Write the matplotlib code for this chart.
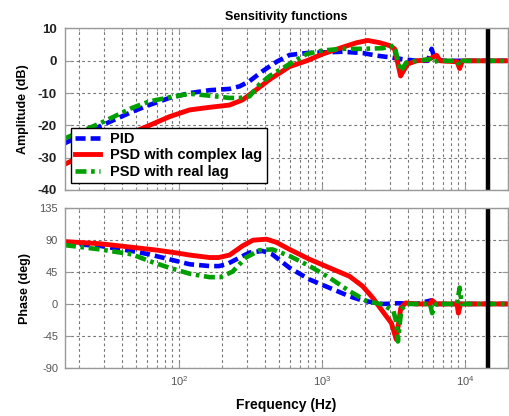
import numpy as np
import matplotlib
matplotlib.use("Agg")
import matplotlib.pyplot as plt
from matplotlib.ticker import LogLocator, NullFormatter, FixedLocator

plt.rcParams['font.family'] = ['Liberation Sans', 'DejaVu Sans']
plt.rcParams['axes.unicode_minus'] = False

# ---------------- data ----------------
# Amplitude (dB)
pid_amp_f = [16, 28, 47, 62, 86, 119, 164, 226, 266, 312, 385, 482, 594, 782, 1012,
             1396, 1928, 2415, 2972, 3664, 4592, 5500, 5850, 6170, 7080, 20000]
pid_amp = [-25.5, -20.3, -15.8, -13.7, -11.5, -10.0, -9.1, -8.7, -7.9, -6.3, -3.2, -0.3,
           1.8, 2.4, 2.6, 2.8, 2.4, 1.6, 1.1, 0.5, 0.0, 0.0, 3.7, 0.5, 0.0, 0.0]

red_amp_f = [16, 25, 40, 60, 86, 119, 164, 226, 279, 349, 431, 594, 782, 1012, 1396,
             1750, 2090, 2535, 2972, 3220, 3380, 3550, 3664, 3970, 4592, 5500, 6340,
             6700, 8800, 9180, 9600, 20000]
red_amp = [-32.0, -27.8, -23.6, -20.3, -17.3, -15.2, -14.4, -13.7, -12.1, -8.9, -5.8,
           -1.8, 0.0, 2.1, 4.2, 5.6, 6.3, 5.6, 4.7, 3.7, -0.5, -4.7, -3.6, -1.0, 0.0,
           0.3, 1.7, 0.0, -0.3, -2.4, 0.0, 0.0]

grn_amp_f = [16, 28, 47, 62, 86, 119, 164, 226, 266, 312, 366, 431, 594, 782, 1012,
             1396, 1928, 2660, 3220, 3380, 3550, 3900, 4592, 5700, 5900, 6500, 8800,
             9180, 9600, 20000]
grn_amp = [-24.0, -19.4, -14.6, -12.6, -11.3, -10.2, -10.8, -11.5, -11.5, -11.0, -7.3,
           -4.7, -1.0, 2.1, 3.2, 3.7, 3.7, 3.9, 4.7, 0.5, -3.2, -0.5, 0.0, 0.5, -0.5,
           0.0, 0.0, -1.5, 0.0, 0.0]

# Phase (deg)
pid_ph_f = [16, 28, 47, 62, 86, 119, 164, 190, 216, 266, 312, 385, 450, 594, 820, 1130,
            1560, 1928, 2660, 3100, 3400, 4600, 5800, 6100, 6500, 20000]
pid_ph = [85.3, 82.0, 74.7, 70.0, 63.0, 56.0, 53.5, 53.4, 56.0, 65.4, 72.5, 74.8, 70.0,
          51.0, 34.5, 22.7, 10.8, 4.7, 0.0, 0.5, 1.0, 0.0, 5.0, -2.0, 0.0, 0.0]

red_ph_f = [16, 28, 47, 70, 100, 119, 164, 190, 226, 279, 330, 410, 480, 594, 820, 1130,
            1560, 1928, 2270, 2660, 3060, 3310, 3560, 3850, 4600, 5700, 5900, 6300,
            8800, 9000, 9300, 20000]
red_ph = [88.0, 85.0, 80.0, 76.0, 71.5, 69.0, 65.5, 65.5, 69.0, 82.0, 90.0, 91.4, 87.0,
          77.0, 63.0, 51.0, 39.0, 25.0, 8.5, -10.5, -27.0, -50.0, -5.7, 1.4, 0.0, 0.0,
          5.0, 0.0, 0.0, -13.0, 0.0, 0.0]

grn_ph_f = [16, 28, 47, 62, 86, 119, 164, 195, 237, 294, 366, 450, 594, 820, 1130, 1560,
            2030, 2660, 3160, 3310, 3400, 3590, 3900, 5700, 5900, 6300, 8800, 9180,
            9500, 20000]
grn_ph = [83.0, 77.0, 70.0, 60.6, 51.0, 42.7, 37.8, 37.8, 45.5, 65.4, 75.8, 77.0, 67.7,
          53.5, 37.0, 18.0, 4.7, -1.0, -10.0, -25.0, -53.0, -8.0, 0.0, 0.0, -13.0, 0.0,
          0.0, 23.0, 0.0, 0.0]

nyquist_f = 14500
labels = ['PID', 'PSD with complex lag', 'PSD with real lag']
title = 'Sensitivity functions'

# ---------------- figure ----------------
W, H = 510, 416
fig = plt.figure(figsize=(W / 100, H / 100), dpi=100)

def frac(x0, y0, x1, y1):
    return [x0 / W, 1 - y1 / H, (x1 - x0) / W, (y1 - y0) / H]

ax1 = fig.add_axes(frac(65, 28.5, 508, 190))
ax2 = fig.add_axes(frac(65, 208.3, 508, 367.7))

lw = 3.3
styles = [dict(color='#0000ff', lw=lw, dashes=(2.2, 1.1)),
          dict(color='#ff0000', lw=lw + 0.2, ls='-'),
          dict(color='#009f00', lw=lw, dashes=(2.4, 1.0, 0.8, 1.0))]

for f, a, st, lab in zip([pid_amp_f, red_amp_f, grn_amp_f], [pid_amp, red_amp, grn_amp],
                         styles, labels):
    ax1.semilogx(f, a, label=lab, **st)
for f, p, st in zip([pid_ph_f, red_ph_f, grn_ph_f], [pid_ph, red_ph, grn_ph], styles):
    ax2.semilogx(f, p, **st)

gridkw = dict(color='#777777', ls=(0, (2.5, 2.5)), lw=0.8)
for ax in (ax1, ax2):
    ax.axvline(nyquist_f, color='black', lw=3.2)
    ax.set_xlim(16, 20000)
    ax.xaxis.set_major_locator(LogLocator(base=10, numticks=10))
    ax.xaxis.set_minor_locator(LogLocator(base=10, subs=np.arange(2, 10), numticks=30))
    ax.xaxis.set_minor_formatter(NullFormatter())
    ax.grid(True, which='major', axis='both', **gridkw)
    ax.grid(True, which='minor', axis='x', **gridkw)
    for s in ax.spines.values():
        s.set_color('#999999')
        s.set_linewidth(1.0)
    ax.tick_params(which='both', direction='in', color='#999999', top=True, right=True)
    ax.tick_params(which='major', length=4)
    ax.tick_params(which='minor', length=2)

ax1.set_ylim(-40, 10)
ax1.yaxis.set_major_locator(FixedLocator([-40, -30, -20, -10, 0, 10]))
ax1.tick_params(axis='y', labelsize=9.5, labelcolor='#222222', pad=6)
for t in ax1.get_yticklabels():
    t.set_fontweight('bold')
ax1.tick_params(axis='x', labelbottom=False)
ax1.set_ylabel('Amplitude (dB)', fontsize=9, fontweight='bold', labelpad=6)
ax1.set_title(title, fontsize=9, fontweight='bold', pad=6)

ax2.set_ylim(-90, 135)
ax2.yaxis.set_major_locator(FixedLocator([-90, -45, 0, 45, 90, 135]))
ax2.tick_params(axis='both', labelsize=8, labelcolor='#555555', pad=5)
ax2.set_ylabel('Phase (deg)', fontsize=9, fontweight='bold', labelpad=6)
ax2.set_xlabel('Frequency (Hz)', fontsize=10, fontweight='bold', labelpad=7)

leg = ax1.legend(loc='lower left', bbox_to_anchor=(0.0135, 0.043), fancybox=False,
                 edgecolor='black', framealpha=1, borderaxespad=0,
                 prop={'weight': 'bold', 'size': 10.5}, handlelength=1.7,
                 labelspacing=0.15, borderpad=0.3, handletextpad=0.7)
leg.get_frame().set_linewidth(1.0)

fig.savefig('out.png', dpi=100)
